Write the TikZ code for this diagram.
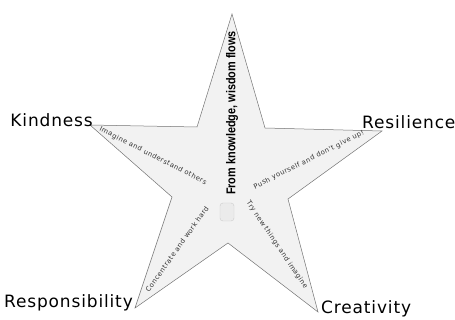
\documentclass[tikz,border=0pt]{standalone}
\usepackage{fontspec}
\setmainfont{DejaVu Sans}[LetterSpace=5]
\newfontfamily\boldsans{Liberation Sans}[FakeStretch=0.85]
\newfontfamily\armfont{DejaVu Sans}[LetterSpace=7]
\begin{document}
\begin{tikzpicture}[x=1pt,y=-1pt,
  starline/.style={draw=black!55, line width=0.5pt, fill=black!5},
  tiplabel/.style={font=\fontsize{17}{17}\selectfont, inner sep=0pt, text=black},
  armtext/.style={font=\armfont\fontsize{6.8}{7}\selectfont, inner sep=0pt, text=black!80},
  motto/.style={font=\boldsans\bfseries\fontsize{12.8}{13}\selectfont, inner sep=0pt, rotate=90}]
\useasboundingbox (0,0) rectangle (455,320);
% star vertices
\coordinate (top) at (232,14);
\coordinate (ir1) at (265,128);
\coordinate (rt) at (382,131);
\coordinate (ir2) at (288,199);
\coordinate (br) at (318,312);
\coordinate (ib) at (228,243);
\coordinate (bl) at (135,308);
\coordinate (il2) at (172,197);
\coordinate (lt) at (90,125);
\coordinate (il1) at (197,127);
\path[starline] (top) -- (ir1) -- (rt) -- (ir2) -- (br) -- (ib) -- (bl) -- (il2) -- (lt) -- (il1) -- cycle;
% faint emblem
\node[draw=black!20, fill=black!8, minimum width=14pt, minimum height=18pt, inner sep=0pt, rounded corners=3pt] (emb) at (227,212) {};
% labels
\node[tiplabel, anchor=south east] (kind) at (93,127) {Kindness};
\node[tiplabel, anchor=south west] (resi) at (362,129) {Resilience};
\node[tiplabel, anchor=south east] (resp) at (133,311) {Responsibility};
\node[tiplabel, anchor=south west] (crea) at (321,317) {Creativity};
% motto
\node[motto] (motto) at (232,113) {From knowledge, wisdom flows};
% arm texts
\node[armtext, rotate=-27] (a1) at (153,156) {Imagine and understand others};
\node[armtext, rotate=26.5] (a2) at (309,160) {Push yourself and don't give up!};
\node[armtext, rotate=54.5] (a3) at (177,249) {Concentrate and work hard};
\node[armtext, rotate=-56] (a4) at (277,245) {Try new things and imagine};
\end{tikzpicture}
\end{document}
